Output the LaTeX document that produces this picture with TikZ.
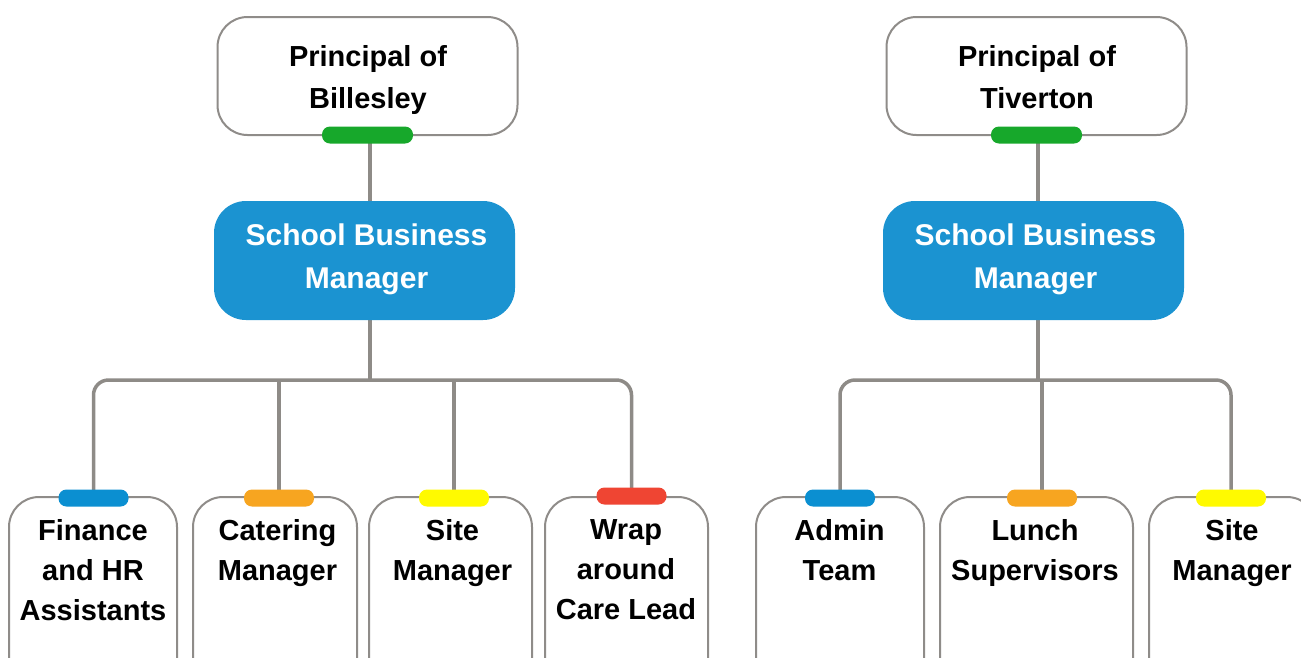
\documentclass[tikz,border=0pt]{standalone}
\usepackage{fontspec}
\setmainfont{Liberation Sans}
\usetikzlibrary{backgrounds}
\definecolor{linegray}{HTML}{8E8B87}
\definecolor{boxgray}{HTML}{8F8C89}
\definecolor{sbmblue}{HTML}{1B93D1}
\definecolor{tabgreen}{HTML}{17A82B}
\definecolor{tabblue}{HTML}{0B8FD1}
\definecolor{taborange}{HTML}{F7A520}
\definecolor{tabyellow}{HTML}{FFFA00}
\definecolor{tabred}{HTML}{EF4533}
\begin{document}
\begin{tikzpicture}[x=1pt,y=-1pt,
  whitebox/.style={draw=boxgray, line width=2pt, fill=white, rounded corners=30pt, inner sep=0pt},
  sbmbox/.style={fill=sbmblue, rounded corners=32pt, inner sep=0pt, minimum width=301pt, minimum height=119pt},
  tabbar/.style={rounded corners=8pt, inner sep=0pt, minimum height=17pt},
  toptext/.style={anchor=north, inner sep=0pt, align=center, font=\fontsize{29}{42}\selectfont\bfseries},
  sbmtext/.style={anchor=north, inner sep=0pt, align=center, text=white, font=\fontsize{30}{43}\selectfont\bfseries},
  lowtext/.style={anchor=north, inner sep=0pt, align=center, font=\fontsize{29}{40}\selectfont\bfseries},
  conn/.style={draw=linegray, line width=3.5pt}]
\useasboundingbox (0,0) rectangle (1301,657);
\clip (0,0) rectangle (1301,657);

% ---------- Billesley ----------
\node[whitebox, minimum width=300pt, minimum height=118pt] (pb) at (367.5,76) {};
\node[toptext] (pbt) at (368,45.5) {Principal of\\Billesley};
\node[tabbar, fill=tabgreen, minimum width=91pt] (pbtab) at (367.5,135) {};
\node[sbmbox] (sb) at (364.5,260.5) {};
\node[sbmtext] (sbt) at (366.5,223.5) {School Business\\Manager};
\coordinate (busb) at (370,380);

\node[whitebox, minimum width=168pt, minimum height=223pt] (fin) at (93,608.5) {};
\node[lowtext] (fint) at (93,519.5) {Finance\\and HR\\Assistants};
\node[tabbar, fill=tabblue, minimum width=70pt] (fintab) at (93.5,498) {};

\node[whitebox, minimum width=164pt, minimum height=223pt] (cat) at (275,608.5) {};
\node[lowtext] (catt) at (277.5,519.5) {Catering\\Manager};
\node[tabbar, fill=taborange, minimum width=70pt] (cattab) at (279,498) {};

\node[whitebox, minimum width=163pt, minimum height=223pt] (sit) at (450.5,608.5) {};
\node[lowtext] (sitt) at (452.5,519.5) {Site\\Manager};
\node[tabbar, fill=tabyellow, minimum width=70pt] (sittab) at (454,498) {};

\node[whitebox, minimum width=163pt, minimum height=223pt] (wra) at (626.5,608.5) {};
\node[lowtext] (wrat) at (626,519.5) {Wrap\\around\\Care Lead};
\node[tabbar, fill=tabred, minimum width=70pt] (wratab) at (631.5,496) {};

% ---------- Tiverton ----------
\node[whitebox, minimum width=300pt, minimum height=118pt] (pt) at (1036.5,76) {};
\node[toptext] (ptt) at (1037,45.5) {Principal of\\Tiverton};
\node[tabbar, fill=tabgreen, minimum width=91pt] (pttab) at (1036.5,135) {};
\node[sbmbox] (st) at (1033.5,260.5) {};
\node[sbmtext] (stt) at (1035.5,223.5) {School Business\\Manager};
\coordinate (bust) at (1038,380);

\node[whitebox, minimum width=168pt, minimum height=223pt] (adm) at (840,608.5) {};
\node[lowtext] (admt) at (839.5,519.5) {Admin\\Team};
\node[tabbar, fill=tabblue, minimum width=70pt] (admtab) at (840,498) {};

\node[whitebox, minimum width=193pt, minimum height=223pt] (lun) at (1036.5,608.5) {};
\node[lowtext] (lunt) at (1035,519.5) {Lunch\\Supervisors};
\node[tabbar, fill=taborange, minimum width=70pt] (luntab) at (1042,498) {};

\node[whitebox, minimum width=168pt, minimum height=223pt] (si2) at (1233,608.5) {};
\node[lowtext] (si2t) at (1232,519.5) {Site\\Manager};
\node[tabbar, fill=tabyellow, minimum width=70pt] (si2tab) at (1231,498) {};

% ---------- connectors ----------
\begin{scope}[on background layer]
\draw[conn] (pbtab.center -| busb) -- (sb.north -| busb);
\draw[conn] (sb.south -| busb) -- (busb);
\draw[conn, rounded corners=15pt] (fintab.center) |- (busb) -| (wratab.center);
\draw[conn] (cattab.center) -- (cattab.center |- busb);
\draw[conn] (sittab.center) -- (sittab.center |- busb);

\draw[conn] (pttab.center -| bust) -- (st.north -| bust);
\draw[conn] (st.south -| bust) -- (bust);
\draw[conn, rounded corners=15pt] (admtab.center) |- (bust) -| (si2tab.center);
\draw[conn] (luntab.center) -- (luntab.center |- bust);
\end{scope}
\end{tikzpicture}
\end{document}
